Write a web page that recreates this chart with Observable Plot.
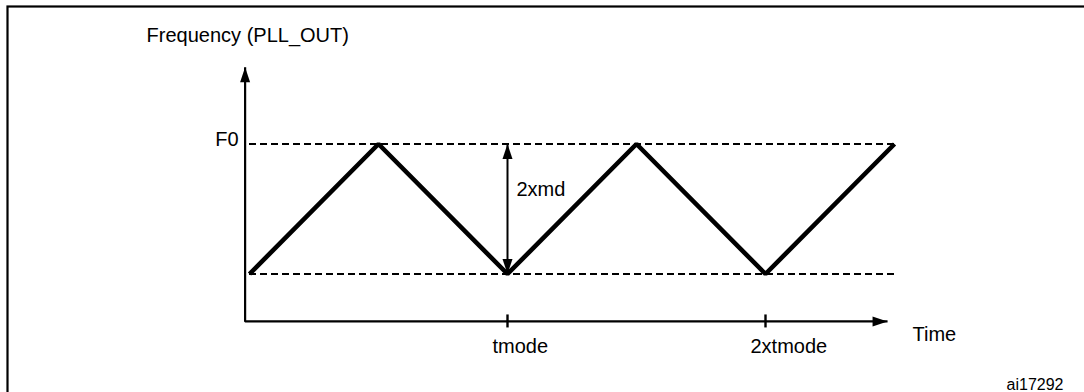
<!DOCTYPE html>
<html>
<head>
<meta charset="utf-8">
<script src="https://cdn.jsdelivr.net/npm/d3@7"></script>
<script src="https://cdn.jsdelivr.net/npm/@observablehq/plot@0.6"></script>
<style>
  html, body { margin: 0; padding: 0; background: #fff; overflow: hidden; }
</style>
</head>
<body>
<div id="chart"></div>
<script>
// ---- Data (schematic, in units of tmode and of the modulation depth) ----
const times = [0, 0.5, 1, 1.5, 2, 2.5];      // time, in tmode units
const freqs = [0, 1, 0, 1, 0, 1];            // 0 = F0 - 2xmd, 1 = F0
const levels = [0, 1];                       // dashed reference levels
const levelLabels = ["", "F0"];
const tickTimes = [1, 2];
const tickLabels = ["tmode", "2xtmode"];
const axisTimeSpan = [-0.017, 2.473];        // time axis: origin .. arrow tip
const axisFreqSpan = [-0.365, 1.59];         // frequency axis: origin .. arrow tip
const spanTime = 1;                          // where the 2xmd span is marked
const spanLabel = "2xmd";
const yTitle = "Frequency (PLL_OUT)";
const xTitle = "Time";
const figureId = "ai17292";

// ---- Derived tables ----
const wave = times.map((t, i) => ({t, f: freqs[i]}));
const levelRows = levels.map((f, i) => ({f, label: levelLabels[i]}));
const tickRows = tickTimes.map((t, i) => ({t, label: tickLabels[i]}));
const t0 = axisTimeSpan[0], tTip = axisTimeSpan[1];
const f0 = axisFreqSpan[0], fTop = axisFreqSpan[1];
const axesPath = [{t: t0, f: fTop}, {t: t0, f: f0}, {t: tTip, f: f0}];
const fLow = d3.min(levels), fHigh = d3.max(levels);

// filled arrow-head symbols (tip at the dot position)
const L = 15, W = 5;
const upHead = {draw(c) { c.moveTo(0, 0); c.lineTo(-W, L); c.lineTo(W, L); c.closePath(); }};
const downHead = {draw(c) { c.moveTo(0, 0); c.lineTo(-W, -L); c.lineTo(W, -L); c.closePath(); }};
const rightHead = {draw(c) { c.moveTo(0, 0); c.lineTo(-L, -W); c.lineTo(-L, W); c.closePath(); }};

const font = "'Liberation Sans', Arial, Helvetica, sans-serif";

const chart = Plot.plot({
  width: 1084,
  height: 392,
  margin: 0,
  style: {fontFamily: font, fontSize: "20px", background: "#fff", color: "#000"},
  x: {domain: [d3.min(times), d3.max(times)], range: [249, 894], axis: null},
  y: {domain: [fLow, fHigh], range: [273.5, 143.5], axis: null},
  marks: [
    // outer figure border (left and top edges visible)
    Plot.frame({stroke: "#000", strokeWidth: 2.2, insetLeft: 7, insetTop: 6, insetRight: -20, insetBottom: -20}),
    // dashed reference levels
    Plot.ruleY(levelRows, {y: "f", x1: d3.min(times), x2: d3.max(times), stroke: "#000", strokeWidth: 1.8, strokeDasharray: "7,4"}),
    // axes
    Plot.line(axesPath, {x: "t", y: "f", stroke: "#000", strokeWidth: 2.2, strokeLinejoin: "miter", strokeLinecap: "butt"}),
    Plot.dot([axesPath[0]], {x: "t", y: "f", symbol: upHead, fill: "#000", stroke: "none"}),
    Plot.dot([axesPath[2]], {x: "t", y: "f", symbol: rightHead, fill: "#000", stroke: "none"}),
    // time ticks
    Plot.ruleX(tickRows, {x: "t", y1: f0, y2: f0, insetTop: -6.5, insetBottom: -6.5, stroke: "#000", strokeWidth: 2.4}),
    // triangular modulation
    Plot.line(wave, {x: "t", y: "f", stroke: "#000", strokeWidth: 4.6, strokeLinejoin: "miter", strokeLinecap: "butt"}),
    // 2xmd span arrow
    Plot.link([{t: spanTime}], {x1: "t", x2: "t", y1: fLow, y2: fHigh, stroke: "#000", strokeWidth: 2}),
    Plot.dot([{t: spanTime, f: fHigh}], {x: "t", y: "f", symbol: upHead, fill: "#000", stroke: "none"}),
    Plot.dot([{t: spanTime, f: fLow}], {x: "t", y: "f", symbol: downHead, fill: "#000", stroke: "none"}),
    // labels
    Plot.text(levelRows.filter(d => d.label), {x: t0, y: "f", text: "label", textAnchor: "end", lineAnchor: "bottom", dx: -6.5, dy: 1.5, fontSize: 20, fill: "#000"}),
    Plot.text([yTitle], {x: t0, y: fTop, text: d => d, textAnchor: "start", lineAnchor: "bottom", dx: -98.5, dy: -25, fontSize: 20, fill: "#000"}),
    Plot.text([xTitle], {x: tTip, y: f0, text: d => d, textAnchor: "start", lineAnchor: "bottom", dx: 25, dy: 20, fontSize: 20, fill: "#000"}),
    Plot.text(tickRows, {x: "t", y: f0, text: "label", textAnchor: "start", lineAnchor: "bottom", dx: -15, dy: 32, fontSize: 20, fill: "#000"}),
    Plot.text([spanLabel], {x: spanTime, y: (fLow + fHigh) / 2, text: d => d, textAnchor: "start", lineAnchor: "bottom", dx: 9, dy: -13.5, fontSize: 20, fill: "#000"}),
    Plot.text([figureId], {frameAnchor: "bottom-right", text: d => d, textAnchor: "end", lineAnchor: "bottom", dx: -21, dy: -3, fontSize: 16, fill: "#000"})
  ]
});
document.getElementById("chart").appendChild(chart);
</script>
</body>
</html>
